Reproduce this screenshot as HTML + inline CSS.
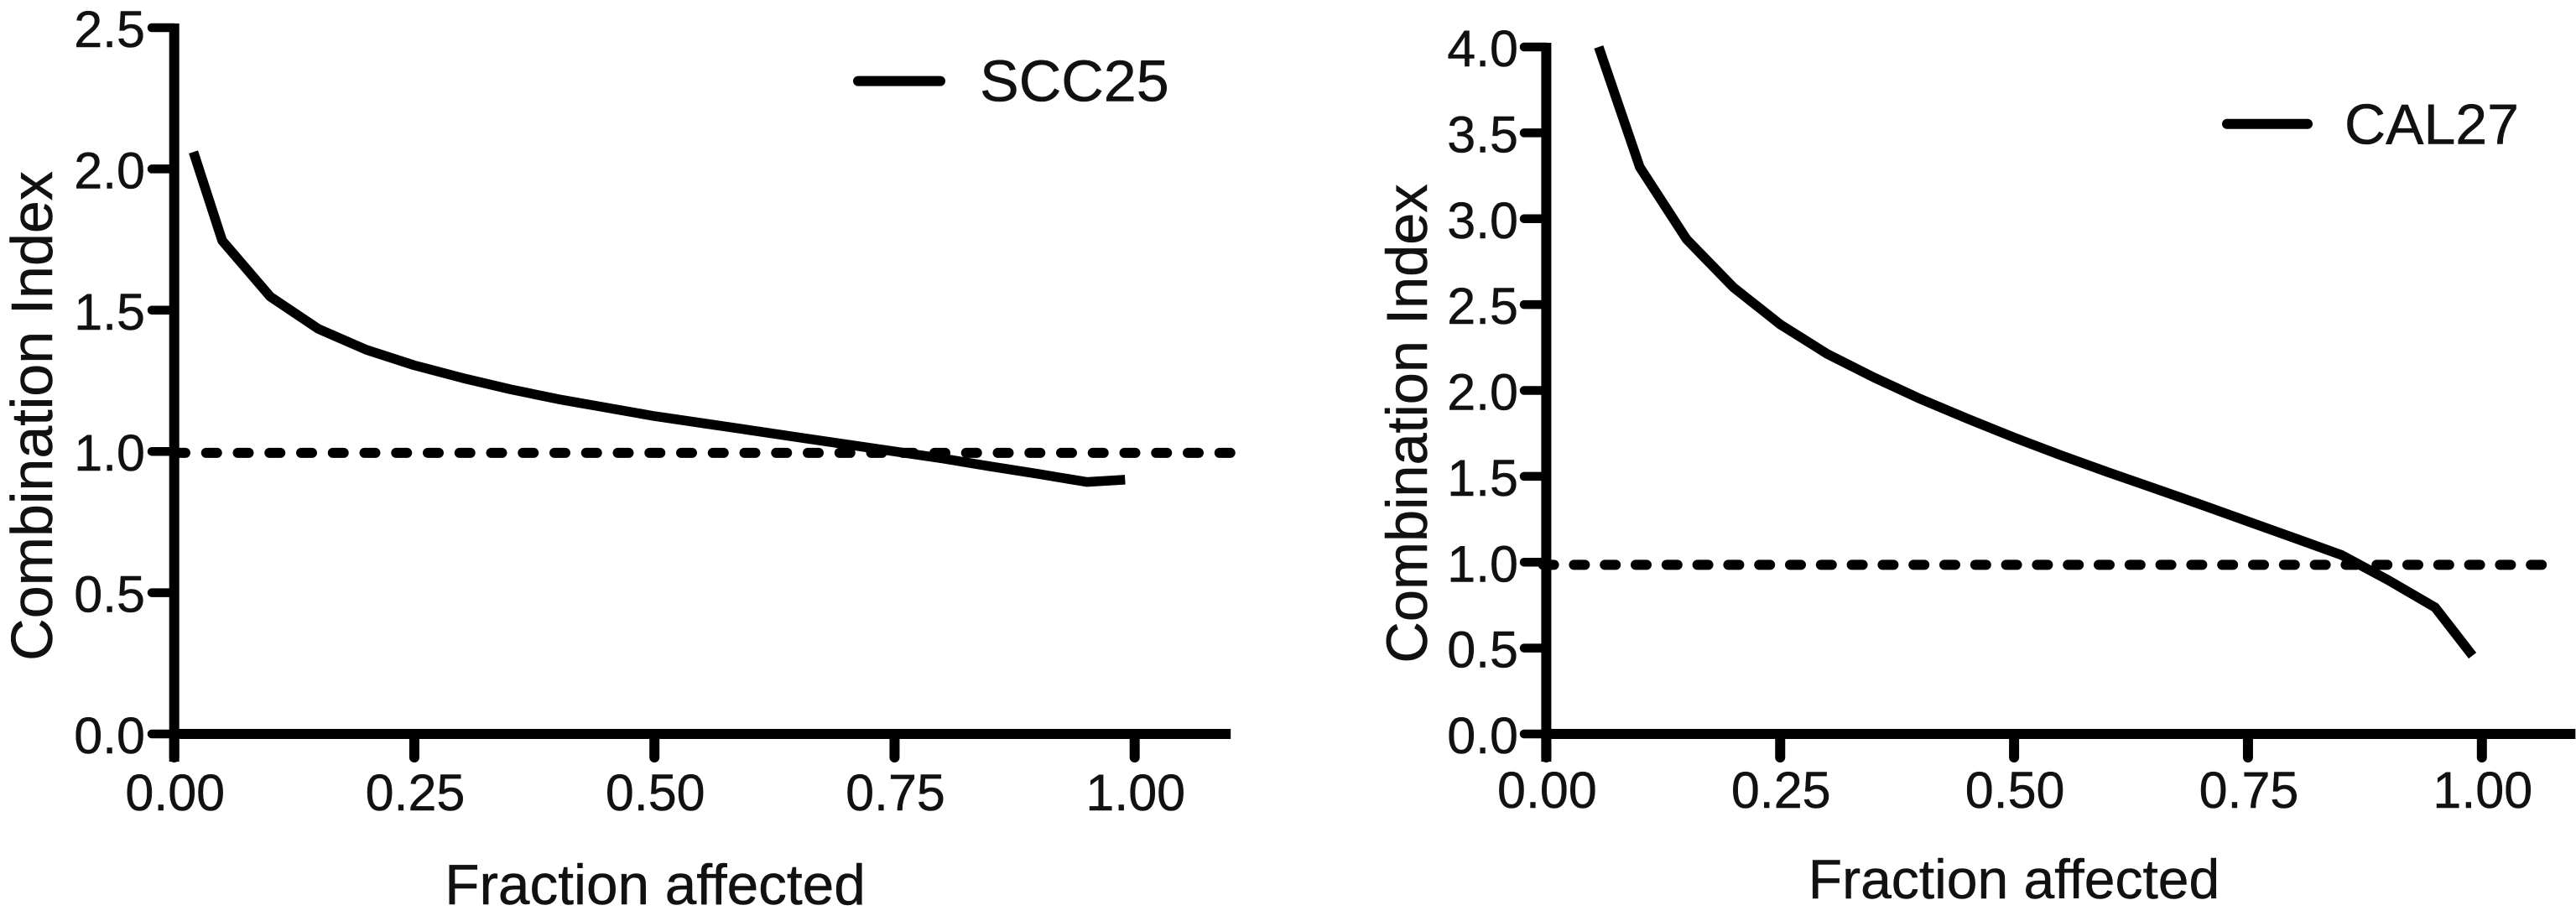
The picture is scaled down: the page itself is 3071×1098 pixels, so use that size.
<!DOCTYPE html>
<html lang="en">
<head>
<meta charset="utf-8">
<title>Combination Index vs Fraction affected</title>
<style>
html,body{margin:0;padding:0;background:#fff;width:3071px;height:1098px;overflow:hidden}
svg{display:block}
text{font-family:"Liberation Sans",Arial,sans-serif;fill:#111;stroke:#111;stroke-width:0.5px}
</style>
</head>
<body>
<svg id="figure" xmlns="http://www.w3.org/2000/svg" width="3071" height="1098" viewBox="0 0 3071 1098">
<rect width="3071" height="1098" fill="#fff"></rect>
</svg>
<script>
// SCC25 panel data
const sccFa = [0.02,0.05,0.10,0.15,0.20,0.25,0.30,0.35,0.40,0.45,0.50,0.55,0.60,0.65,0.70,0.75,0.80,0.85,0.90,0.95,0.99];
const sccCi = [2.06,1.746,1.548,1.434,1.36,1.305,1.26,1.22,1.185,1.155,1.125,1.10,1.075,1.05,1.025,1.0,0.975,0.947,0.92,0.892,0.90];
const sccYTicks = ['0.0','0.5','1.0','1.5','2.0','2.5'];
const sccThreshold = [0.995];

// CAL27 panel data
const calFa = [0.056,0.10,0.15,0.20,0.25,0.30,0.35,0.40,0.45,0.50,0.55,0.60,0.65,0.70,0.75,0.80,0.85,0.90,0.95,0.99];
const calCi = [4.0,3.30,2.88,2.60,2.385,2.214,2.076,1.95,1.836,1.726,1.623,1.525,1.43,1.335,1.237,1.14,1.042,0.895,0.737,0.456];
const calYTicks = ['0.0','0.5','1.0','1.5','2.0','2.5','3.0','3.5','4.0'];
const calThreshold = [0.985];

// Shared x ticks
const xTicks = ['0.00','0.25','0.50','0.75','1.00'];

const NS = 'http://www.w3.org/2000/svg';
const root = document.getElementById('figure');

function make(tag, attrs, parent, content) {
  const el = document.createElementNS(NS, tag);
  for (const k in attrs) el.setAttribute(k, attrs[k]);
  if (content !== undefined) el.textContent = content;
  parent.appendChild(el);
  return el;
}

function drawPanel(p) {
  const group = make('g', {}, root);
  
  

  const sx = v => p.x0 + v * p.xPerUnit;
  const sy = v => p.y0 - v * p.yPerUnit;
  const yTop = sy(parseFloat(p.yTicks[p.yTicks.length - 1]));

  // y ticks and labels
  p.yTicks.forEach(t => {
    const v = parseFloat(t);
    const tick = make('line', {x1: p.x0, x2: p.yTickEnd, y1: sy(v), y2: sy(v), stroke: '#000', 'stroke-width': 10.5, 'stroke-linecap': 'round'}, group);
    
    
    const label = make('text', {x: p.yLabelRight, y: sy(v) + 23, 'text-anchor': 'end', 'font-size': 61}, group, t);
    
    
  });

  // x ticks and labels
  xTicks.forEach(t => {
    const v = parseFloat(t);
    const tick = make('line', {x1: sx(v), x2: sx(v), y1: p.y0, y2: p.xTickEnd, stroke: '#000', 'stroke-width': 12, 'stroke-linecap': 'round'}, group);
    
    
    const label = make('text', {x: sx(v) + 1, y: p.xLabelBase, 'text-anchor': 'middle', 'font-size': 61}, group, t);
    
    
  });

  // axes
  const yAxis = make('line', {x1: p.x0, x2: p.x0, y1: yTop - 5, y2: p.xTickEnd + 5, stroke: '#000', 'stroke-width': 12}, group);
  
  
  const xAxis = make('line', {x1: p.x0, x2: sx(p.xMax), y1: p.y0, y2: p.y0, stroke: '#000', 'stroke-width': 12}, group);
  
  

  // threshold dashed line
  const dash = make('line', {x1: p.dashStart, x2: sx(p.dashEnd), y1: sy(p.threshold[0]), y2: sy(p.threshold[0]), stroke: '#000', 'stroke-width': 12, 'stroke-linecap': 'round', 'stroke-dasharray': p.dashPattern}, group);
  
  

  // series
  const pts = p.fa.map((f, i) => sx(f).toFixed(1) + ',' + sy(p.ci[i]).toFixed(1)).join(' ');
  const series = make('polyline', {points: pts, fill: 'none', stroke: '#000', 'stroke-width': 11.5, 'stroke-linejoin': 'round'}, group);
  
  

  // legend
  const key = make('line', {x1: p.legend.x1, x2: p.legend.x2, y1: p.legend.y, y2: p.legend.y, stroke: '#000', 'stroke-width': 12, 'stroke-linecap': 'round'}, group);
  
  
  const legendText = make('text', {x: p.legend.textX, y: p.legend.base, 'font-size': p.legend.size}, group, p.name);
  
  

  // axis titles
  const xTitle = make('text', {x: p.xTitle.x, y: p.xTitle.y, 'text-anchor': 'middle', 'font-size': p.xTitle.size}, group, 'Fraction affected');
  
  
  const yTitle = make('text', {transform: 'translate(' + p.yTitle.x + ' ' + p.yTitle.y + ') rotate(-90)', 'text-anchor': 'middle', 'font-size': p.yTitle.size}, group, 'Combination Index');
  
  
}

drawPanel({
  slug: 'scc25', name: 'SCC25', fa: sccFa, ci: sccCi, yTicks: sccYTicks, threshold: sccThreshold,
  x0: 207.7, xPerUnit: 1145, y0: 875, yPerUnit: 336.8, xMax: 1.1,
  yTickEnd: 181, xTickEnd: 903, yLabelRight: 173, xLabelBase: 966,
  dashStart: 208, dashEnd: 1.1015, dashPattern: '13 24.75',
  legend: {x1: 1023, x2: 1121, y: 96.6, textX: 1168, base: 120.5, size: 70},
  xTitle: {x: 781, y: 1078, size: 67.5},
  yTitle: {x: 62, y: 496, size: 70}
});

drawPanel({
  slug: 'cal27', name: 'CAL27', fa: calFa, ci: calCi, yTicks: calYTicks, threshold: calThreshold,
  x0: 1843.4, xPerUnit: 1115.4, y0: 875, yPerUnit: 204.75, xMax: 1.1,
  yTickEnd: 1817, xTickEnd: 903, yLabelRight: 1810, xLabelBase: 963,
  dashStart: 1839.6, dashEnd: 1.071, dashPattern: '13 23.8',
  legend: {x1: 2655, x2: 2751, y: 147.8, textX: 2795, base: 171.6, size: 68},
  xTitle: {x: 2401, y: 1071, size: 66},
  yTitle: {x: 1701, y: 505, size: 68.5}
});
</script>
</body>
</html>
